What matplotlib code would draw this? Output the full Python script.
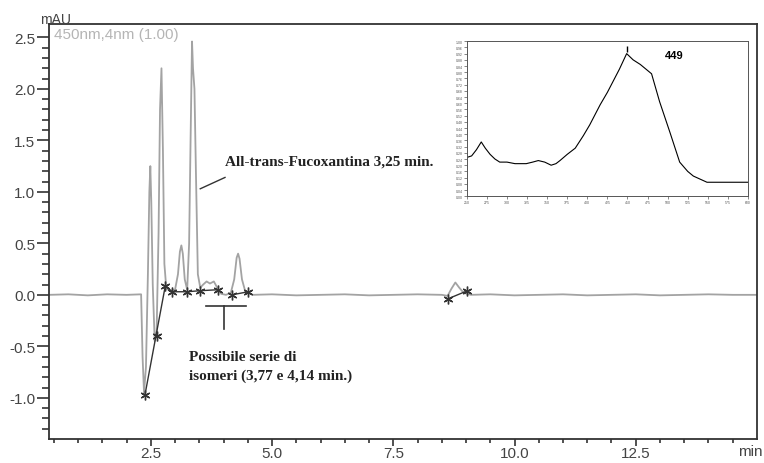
import matplotlib
matplotlib.use("Agg")
import matplotlib.pyplot as plt

# Cromatogramma a 450 nm (min, mAU)
time_min = [0.40, 0.8, 1.2, 1.6, 2.0, 2.30, 2.33, 2.36, 2.40, 2.44, 2.47, 2.49,
            2.51, 2.54, 2.58, 2.62, 2.66, 2.69, 2.72, 2.75, 2.78, 2.82, 2.90,
            3.00, 3.06, 3.10, 3.13, 3.16, 3.20, 3.25, 3.29, 3.32, 3.35, 3.37,
            3.40, 3.43, 3.47, 3.52, 3.58, 3.65, 3.72, 3.80, 3.88, 3.95, 4.05,
            4.15, 4.22, 4.27, 4.30, 4.33, 4.38, 4.45, 4.60, 5.0, 5.5, 6.0, 6.5,
            7.0, 7.5, 8.0, 8.50, 8.62, 8.70, 8.78, 8.86, 8.95, 9.10, 9.5, 10.0,
            10.5, 11.0, 11.5, 12.0, 12.5, 13.0, 13.5, 14.0, 14.5, 15.0]
signal_mau = [0.00, 0.005, -0.005, 0.005, 0.00, 0.005, -0.60, -0.95, -0.70,
              0.20, 1.00, 1.25, 0.90, 0.10, -0.45, -0.35, 0.60, 1.80, 2.20,
              1.40, 0.30, 0.06, 0.04, 0.05, 0.20, 0.42, 0.48, 0.40, 0.15, 0.05,
              0.50, 1.50, 2.46, 2.20, 2.00, 1.20, 0.20, 0.07, 0.10, 0.13, 0.11,
              0.13, 0.06, 0.01, 0.00, 0.02, 0.15, 0.36, 0.40, 0.35, 0.15, 0.03,
              0.00, 0.005, -0.005, 0.00, 0.005, -0.005, 0.00, 0.005, 0.00,
              -0.01, 0.06, 0.12, 0.07, 0.02, 0.00, 0.005, -0.005, 0.00, 0.005,
              -0.005, 0.00, 0.005, -0.005, 0.00, 0.005, 0.00, 0.00]

# Marcatori di integrazione (inizio/fine picco)
mark_t = [2.38, 2.62, 2.80, 2.94, 3.24, 3.52, 3.89, 4.17, 4.51, 8.62, 9.03]
mark_y = [-0.97, -0.40, 0.09, 0.03, 0.03, 0.04, 0.05, 0.00, 0.03, -0.04, 0.04]

# Linee di base tracciate dall'integratore
baselines = [
    ([2.38, 2.80], [-0.97, 0.09]),
    ([2.80, 2.94, 3.24, 3.52, 3.89], [0.09, 0.03, 0.03, 0.04, 0.05]),
    ([4.17, 4.51], [0.00, 0.03]),
    ([8.62, 9.03], [-0.04, 0.04]),
]

# Spettro UV-Vis del picco (nm, unità relative)
wl_nm = [250, 256, 262, 268, 273, 279, 285, 291, 300, 310, 324, 332, 339, 347,
         355, 361, 366, 375, 385, 395, 403, 416, 425, 432, 440, 449, 457, 466,
         473, 480, 490, 503, 515, 525, 532, 549, 560, 574, 590, 600]
absorb = [0.25, 0.26, 0.30, 0.35, 0.31, 0.27, 0.24, 0.22, 0.22, 0.21, 0.21,
          0.22, 0.23, 0.22, 0.20, 0.21, 0.23, 0.27, 0.31, 0.39, 0.46, 0.59,
          0.67, 0.74, 0.82, 0.92, 0.88, 0.85, 0.82, 0.79, 0.61, 0.41, 0.22,
          0.16, 0.13, 0.09, 0.09, 0.09, 0.09, 0.09]

x_major = [2.5, 5.0, 7.5, 10.0, 12.5]
y_major = [-1.0, -0.5, 0.0, 0.5, 1.0, 1.5, 2.0, 2.5]

TRACE = "#a3a3a3"
INK = "#333333"

plt.rcParams["font.family"] = ["Liberation Sans", "DejaVu Sans"]

fig = plt.figure(figsize=(7.64, 4.64), dpi=100)
ax = fig.add_axes([0.0641, 0.0517, 0.9267, 0.8944])

ax.plot(time_min, signal_mau, color=TRACE, lw=1.3)
for bt, by in baselines:
    ax.plot(bt, by, color=INK, lw=1.0)
ax.plot(mark_t, mark_y, ls="none", marker=(6, 2, 0), ms=7, mew=1.0, color=INK)

ax.set_xlim(0.4, 15.0)
ax.set_ylim(-1.40, 2.63)
ax.set_xticks(x_major)
ax.set_xticks([v * 0.5 for v in range(1, 30)], minor=True)
ax.set_yticks(y_major)
ax.set_yticks([v * 0.1 for v in range(-13, 26)], minor=True)
ax.set_xticklabels([f"{v:.1f}" for v in x_major])
ax.set_yticklabels([f"{v:.1f}" for v in y_major])
ax.tick_params(axis="both", which="major", labelsize=11, labelcolor="#444444",
               color=INK, width=1.2)
ax.tick_params(axis="x", which="major", length=5, pad=0)
ax.tick_params(axis="y", which="major", length=9, pad=1)
ax.tick_params(axis="x", which="minor", length=3, color=INK, width=1.2)
ax.tick_params(axis="y", which="minor", length=5, color=INK, width=1.2)
for sp in ax.spines.values():
    sp.set_color(INK)
    sp.set_linewidth(1.3)

ax.text(0.009, 1.012, "mAU", transform=ax.transAxes, fontsize=10,
        color="#444444", ha="center", va="center")
ax.text(1.008, -0.03, "min", transform=ax.transAxes, fontsize=11,
        color="#444444", ha="right", va="center")
ax.text(0.5, 2.53, "450nm,4nm (1.00)", fontsize=11, color="#b5b5b5",
        ha="left", va="center")

# Annotazioni
serif = ["Liberation Serif", "DejaVu Serif"]
ax.text(4.04, 1.30, "All-trans-Fucoxantina 3,25 min.", family=serif,
        fontweight="bold", fontsize=11, color="#222222", va="center")
ax.plot([3.52, 4.03], [1.03, 1.14], color=INK, lw=1.0)
ax.text(3.29, -0.60, "Possibile serie di", family=serif, fontweight="bold",
        fontsize=11, color="#222222", va="center")
ax.text(3.29, -0.78, "isomeri (3,77 e 4,14 min.)", family=serif,
        fontweight="bold", fontsize=11, color="#222222", va="center")
ax.plot([3.63, 4.47], [-0.11, -0.11], color=INK, lw=1.2)
ax.plot([4.0, 4.0], [-0.11, -0.33], color=INK, lw=1.2)

# Riquadro con lo spettro
ins = fig.add_axes([0.611, 0.575, 0.368, 0.334])
ins.plot(wl_nm, absorb, color="black", lw=0.8)
ins.plot([449], [0.95], marker="|", ms=5, color="black")
ins.text(497, 0.91, "449", fontsize=8, fontweight="bold", va="center")
ins.set_xlim(250, 600)
ins.set_ylim(0.0, 1.0)
ins.set_xticks(range(250, 601, 25))
ins.set_yticks([v * 0.04 for v in range(0, 26)])
ins.set_xticklabels([str(v) for v in range(250, 601, 25)])
ins.set_yticklabels([f"{v * 0.04:.2f}" for v in range(0, 26)])
ins.tick_params(labelsize=2.5, length=2, width=0.5, pad=1, colors="#555555")
for sp in ins.spines.values():
    sp.set_color("#555555")
    sp.set_linewidth(0.7)

fig.savefig("out.png", dpi=100)
